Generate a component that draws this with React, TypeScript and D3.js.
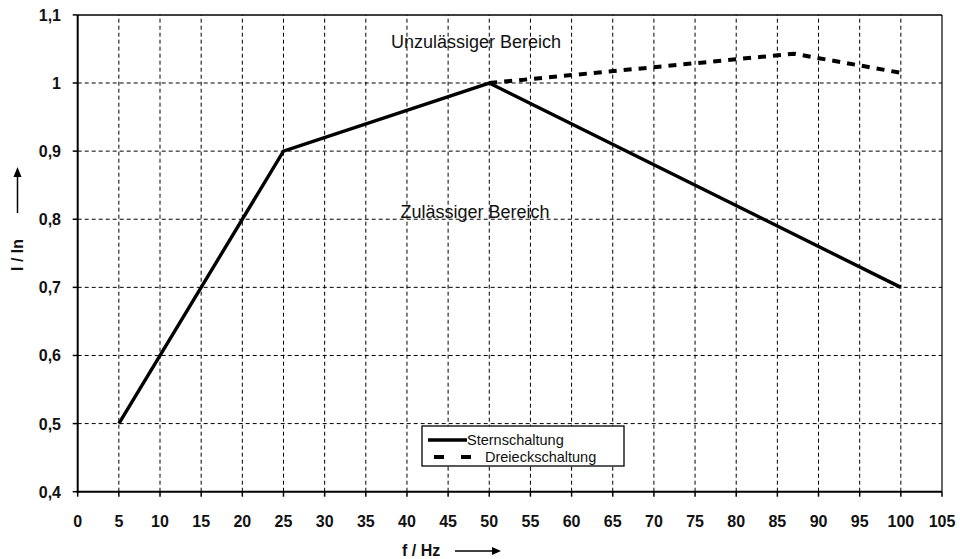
import * as d3 from 'd3'

// f / Hz values and I / In for the two connection types
const sternF = [5, 25, 50, 100]
const sternI = [0.5, 0.9, 1.0, 0.7]
const dreieckF = [50, 87, 100]
const dreieckI = [1.0, 1.043, 1.015]

const xTicks = d3.range(0, 106, 5)
const yTicks = [0.4, 0.5, 0.6, 0.7, 0.8, 0.9, 1.0, 1.1]

const W = 960
const H = 559
const FONT = 'Liberation Sans, Arial, Helvetica, sans-serif'

function fmtY(v: number): string {
  return v === 1 ? '1' : v.toFixed(1).replace('.', ',')
}

export default function App() {
  const x = d3.scaleLinear().domain([0, 105]).range([77.7, 942])
  const y = d3.scaleLinear().domain([0.4, 1.1]).range([491.7, 14.9])

  const line = d3
    .line<[number, number]>()
    .x((d) => x(d[0]))
    .y((d) => y(d[1]))

  const stern = line(sternF.map((f, i) => [f, sternI[i]]))
  const dreieck = line(dreieckF.map((f, i) => [f, dreieckI[i]]))

  const [x0, x1] = x.range()
  const [y0, y1] = y.range()

  return (
    <div style={{ position: 'absolute', left: 0, top: 0 }}>
      <svg width={W} height={H} style={{ display: 'block', background: '#fff' }}>
        {/* grid */}
        {xTicks.slice(1, -1).map((t) => (
          <line key={'gx' + t} x1={x(t)} x2={x(t)} y1={y0} y2={y1}
            stroke="#000" strokeWidth={1} strokeDasharray="4,3" />
        ))}
        {yTicks.slice(1, -1).map((t) => (
          <line key={'gy' + t} x1={x0} x2={x1} y1={y(t)} y2={y(t)}
            stroke="#000" strokeWidth={1} strokeDasharray="4,3" />
        ))}

        {/* plot border */}
        <line x1={x0} x2={x1} y1={y1} y2={y1} stroke="#000" strokeWidth={1.5} />
        <line x1={x1} x2={x1} y1={y1} y2={y0} stroke="#000" strokeWidth={1.2} />
        <line x1={x0} x2={x0} y1={y1} y2={y0 + 1} stroke="#000" strokeWidth={2} />
        <line x1={x0 - 1} x2={x1} y1={y0} y2={y0} stroke="#000" strokeWidth={2} />

        {/* ticks + labels */}
        {xTicks.map((t) => (
          <g key={'tx' + t}>
            <line x1={x(t)} x2={x(t)} y1={y0} y2={y0 + 5} stroke="#000" strokeWidth={1.5} />
            <text x={x(t)} y={527} textAnchor="middle" fontFamily={FONT}
              fontWeight="bold" fontSize={16} fill="#111">{t}</text>
          </g>
        ))}
        {yTicks.map((t) => (
          <g key={'ty' + t}>
            <line x1={x0 - 5} x2={x0} y1={y(t)} y2={y(t)} stroke="#000" strokeWidth={1.5} />
            <text x={61} y={y(t) + 6} textAnchor="end" fontFamily={FONT}
              fontWeight="bold" fontSize={16} fill="#111">{fmtY(t)}</text>
          </g>
        ))}

        {/* series */}
        <path d={dreieck ?? ''} fill="none" stroke="#000" strokeWidth={4}
          strokeDasharray="8,7" />
        <path d={stern ?? ''} fill="none" stroke="#000" strokeWidth={3.4}
          strokeLinejoin="miter" />

        {/* region labels */}
        <text x={476} y={48} textAnchor="middle" fontFamily={FONT} fontSize={18}
          fill="#111">Unzulässiger Bereich</text>
        <text x={475} y={218} textAnchor="middle" fontFamily={FONT} fontSize={18}
          fill="#111">Zulässiger Bereich</text>

        {/* legend */}
        <rect x={422} y={426} width={202} height={40} fill="#fff" stroke="#000" strokeWidth={1.3} />
        <line x1={428} x2={467} y1={440} y2={440} stroke="#000" strokeWidth={3.4} />
        <text x={467} y={445} fontFamily={FONT} fontSize={14.5} fill="#111">Sternschaltung</text>
        <line x1={434} x2={471} y1={457} y2={457} stroke="#000" strokeWidth={4}
          strokeDasharray="10,17" />
        <text x={485} y={462} fontFamily={FONT} fontSize={14.5} fill="#111">Dreieckschaltung</text>

        {/* axis titles */}
        <text x={402} y={556} fontFamily={FONT} fontWeight="bold" fontSize={16}
          fill="#111">f / Hz</text>
        <line x1={455} x2={494} y1={551} y2={551} stroke="#000" strokeWidth={1.5} />
        <path d="M492,547 L501,551 L492,555 Z" fill="#000" />

        <text transform="translate(23,255) rotate(-90)" textAnchor="middle"
          fontFamily={FONT} fontWeight="bold" fontSize={16} fill="#111">I / In</text>
        <line x1={17.5} x2={17.5} y1={213} y2={175} stroke="#000" strokeWidth={1.5} />
        <path d="M13.5,177 L17.5,167 L21.5,177 Z" fill="#000" />
      </svg>
    </div>
  )
}
